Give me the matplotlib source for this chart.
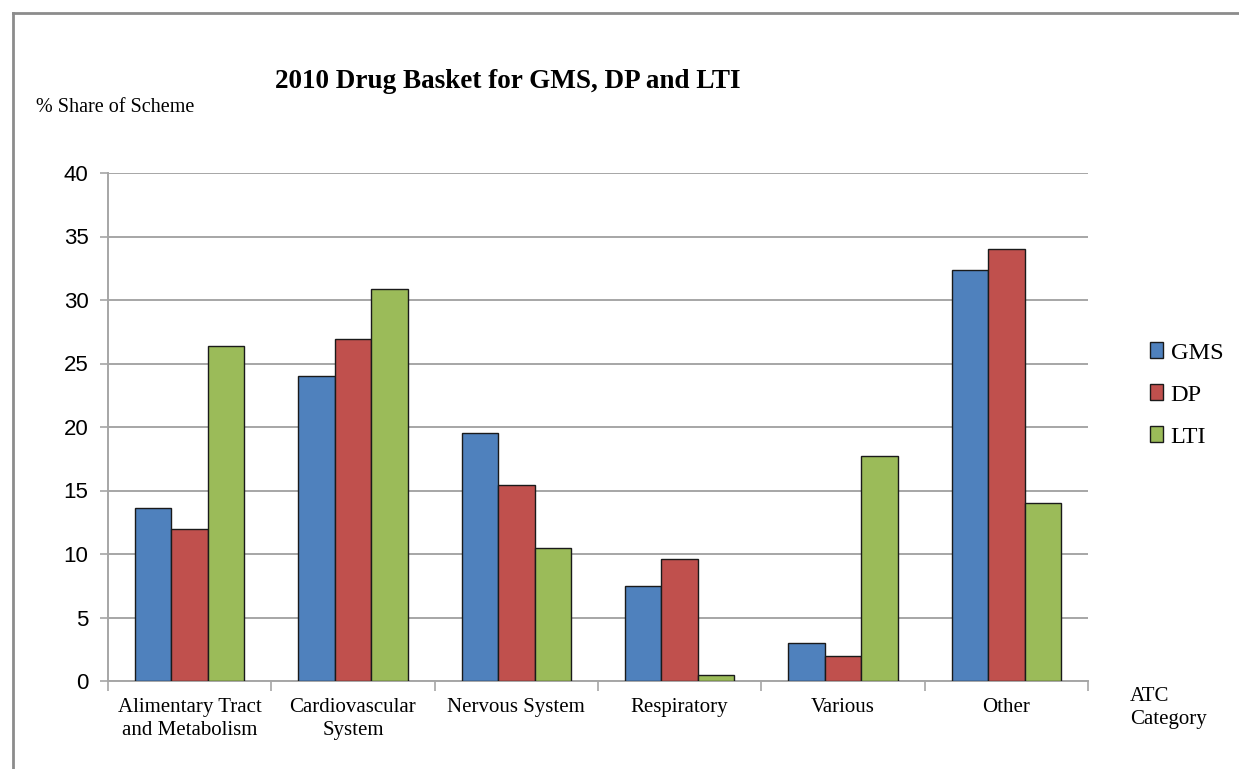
import numpy as np
import matplotlib.pyplot as plt
from matplotlib.lines import Line2D
from matplotlib.patches import Patch

# Data
categories = ["Alimentary Tract\nand Metabolism", "Cardiovascular\nSystem",
              "Nervous System", "Respiratory", "Various", "Other"]
series_names = ["GMS", "DP", "LTI"]
gms = [13.6, 24.05, 19.5, 7.45, 3.0, 32.4]
dp = [12.0, 26.95, 15.45, 9.57, 2.0, 34.05]
lti = [26.4, 30.9, 10.5, 0.46, 17.7, 14.02]
colors = ["#4F81BD", "#C0504D", "#9BBB59"]
yticks = [0, 5, 10, 15, 20, 25, 30, 35, 40]

serif = "Liberation Serif"
sans = "Liberation Sans"
grid_col = "#a6a6a6"

fig = plt.figure(figsize=(12.39, 7.69), dpi=100)
ax = fig.add_axes([108 / 1239, 1 - 681 / 769, (1088 - 108) / 1239, (681 - 173) / 769])

x = np.arange(len(categories))
w = 0.2235
for k, (vals, c) in enumerate(zip([gms, dp, lti], colors)):
    ax.bar(x + (k - 1) * w, vals, width=w, color=c, edgecolor="#1a1a1a",
           linewidth=1.0, zorder=3)

ax.set_xlim(-0.5, len(categories) - 0.5)
ax.set_ylim(0, 40)
ax.set_yticks(yticks)
ax.set_yticklabels([str(v) for v in yticks], fontfamily=sans, fontsize=16)
ax.yaxis.grid(True, color=grid_col, linewidth=1.4, zorder=0)
ax.tick_params(axis="y", length=6, width=1.2, color=grid_col, pad=8)

ax.set_xticks(np.arange(len(categories) + 1) - 0.5)
ax.set_xticklabels([])
ax.tick_params(axis="x", which="major", length=7, width=1.2, color=grid_col)
ax.set_xticks(x, minor=True)
ax.set_xticklabels(categories, minor=True, fontfamily=serif, fontsize=15,
                   linespacing=1.3)
ax.tick_params(axis="x", which="minor", length=0, pad=12)

for s in ["top", "right"]:
    ax.spines[s].set_visible(False)
for s in ["left", "bottom"]:
    ax.spines[s].set_color(grid_col)
    ax.spines[s].set_linewidth(1.4)

fig.text(508 / 1239, 1 - 82 / 769, "2010 Drug Basket for GMS, DP and LTI",
         ha="center", va="center", fontfamily=serif, fontweight="bold", fontsize=19.5)
fig.text(36 / 1239, 1 - 108 / 769, "% Share of Scheme", ha="left", va="center",
         fontfamily=serif, fontsize=14.5)
fig.text(1130 / 1239, 1 - 708 / 769, "ATC\nCategory", ha="left", va="center",
         fontfamily=serif, fontsize=15, linespacing=1.3)

handles = [Patch(facecolor=c, edgecolor="#1a1a1a", linewidth=1.0) for c in colors]
fig.legend(handles, series_names, loc="center left",
           bbox_to_anchor=(1128 / 1239, 1 - 395 / 769), frameon=False,
           prop={"family": serif, "size": 17.5}, handlelength=0.55,
           handleheight=0.6, handletextpad=0.3, labelspacing=0.85)

# chart border (top and left visible)
fig.add_artist(Line2D([13 / 1239, 1], [1 - 13 / 769, 1 - 13 / 769],
                      color="#8c8c8c", linewidth=2))
fig.add_artist(Line2D([13 / 1239, 13 / 1239], [1 - 13 / 769, 0],
                      color="#8c8c8c", linewidth=2))

fig.savefig("out.png", dpi=100)
